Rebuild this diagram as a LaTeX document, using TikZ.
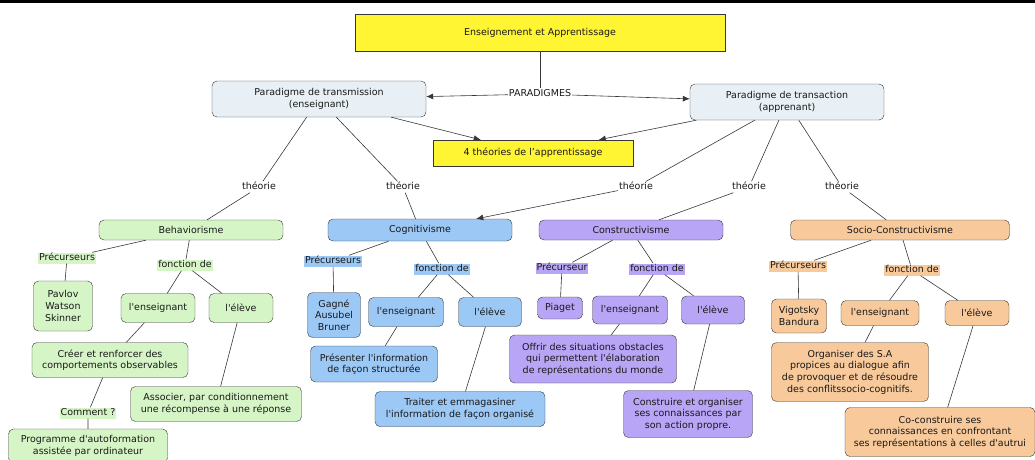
\documentclass[tikz,border=0pt]{standalone}
\usepackage{fontspec}
\setmainfont{DejaVu Sans}[Ligatures=TeXOff]
\usepackage{tikz}
\usetikzlibrary{shapes,positioning,calc}
\usetikzlibrary{arrows.meta}
\definecolor{jaune}{RGB}{255,245,50}
\definecolor{gris}{RGB}{232,240,245}
\definecolor{vert}{RGB}{214,245,199}
\definecolor{bleu}{RGB}{155,200,245}
\definecolor{violet}{RGB}{185,165,245}
\definecolor{orange}{RGB}{248,201,155}
\definecolor{ligne}{RGB}{55,55,55}
\tikzstyle{cadre} = [rectangle, draw=ligne, fill=jaune, text centered]
\tikzstyle{paradigme} = [rectangle, rounded corners=5pt, draw=ligne, fill=gris, align=center]
\tikzstyle{boite} = [rectangle, rounded corners=5pt, draw=ligne, align=center, inner sep=2pt]
\tikzstyle{etiq} = [inner sep=1pt, text height=7pt, text depth=2pt]
\tikzstyle{trait} = [draw=ligne, line width=0.6pt]
\tikzstyle{fleche} = [draw=ligne, line width=0.6pt, -{Latex[length=7pt,width=6pt]}]

\begin{document}
\begin{tikzpicture}[x=1pt, y=-1pt, font=\fontsize{9.5}{11.6}\selectfont, text=black!90]
						\useasboundingbox (0,0) rectangle (1035,459);
						\fill[black] (0,0) rectangle (1035,2.5);
						\node (titre) at (540,33) [cadre, minimum width=370pt, minimum height=37pt] {Enseignement et Apprentissage};
						\node (transm) at (319,99) [paradigme, minimum width=214pt, minimum height=36pt] {Paradigme de transmission\\(enseignant)};
						\node (transa) at (787,102) [paradigme, minimum width=194pt, minimum height=36pt] {Paradigme de transaction\\(apprenant)};
						\node (parad) at (540,94) [etiq, fill=white] {PARADIGMES};
						\node (quatre) at (533,153) [cadre, minimum width=200pt, minimum height=26pt] {4 théories de l’apprentissage};
						\node (t1) at (259,187) [etiq, fill=white] {théorie};
						\node (t2) at (403,187) [etiq, fill=white] {théorie};
						\node (t3) at (636,187) [etiq, fill=white] {théorie};
						\node (t4) at (749,187) [etiq, fill=white] {théorie};
						\node (t5) at (842,187) [etiq, fill=white] {théorie};
						\node (behav) at (191,230) [boite, fill=vert, minimum width=184pt, minimum height=20pt] {Behaviorisme};
						\node (cogn) at (420,230) [boite, fill=bleu, minimum width=184pt, minimum height=22pt] {Cognitivisme};
						\node (constr) at (631,230) [boite, fill=violet, minimum width=184pt, minimum height=20pt] {Constructivisme};
						\node (socio) at (900,230) [boite, fill=orange, minimum width=219pt, minimum height=20pt] {Socio-Constructivisme};
						\node (precB) at (67,258) [etiq, fill=vert] {Précurseurs};
						\node (fctB) at (185,265) [etiq, fill=vert] {fonction de};
						\node (pavlov) at (63,306) [boite, fill=vert, minimum width=59pt, minimum height=50pt] {Pavlov\\Watson\\Skinner};
						\node (ensB) at (158,308) [boite, fill=vert, minimum width=74pt, minimum height=29pt] {l'enseignant};
						\node (eleveB) at (241,308) [boite, fill=vert, minimum width=64pt, minimum height=29pt] {l'élève};
						\node (creer) at (110,360) [boite, fill=vert, minimum width=156pt, minimum height=35pt] {Créer et renforcer des\\comportements observables};
						\node (associer) at (216,404) [boite, fill=vert, minimum width=171pt, minimum height=35pt] {Associer, par conditionnement\\une récompense à une réponse};
						\node (comment) at (88,413) [etiq, fill=vert] {Comment ?};
						\node (programme) at (88,446) [boite, fill=vert, minimum width=159pt, minimum height=34pt] {Programme d'autoformation\\assistée par ordinateur};
						\node (precC) at (333,261) [etiq, fill=bleu] {Précurseurs};
						\node (fctC) at (442,269) [etiq, fill=bleu] {fonction de};
						\node (gagne) at (334,315) [boite, fill=bleu, minimum width=53pt, minimum height=45pt] {Gagné\\Ausubel\\Bruner};
						\node (ensC) at (406,312) [boite, fill=bleu, minimum width=75pt, minimum height=29pt] {l'enseignant};
						\node (eleveC) at (490,312) [boite, fill=bleu, minimum width=63pt, minimum height=29pt] {l'élève};
						\node (presenter) at (374,364) [boite, fill=bleu, minimum width=127pt, minimum height=36pt] {Présenter l'information\\de façon structurée};
						\node (traiter) at (460,409) [boite, fill=bleu, minimum width=170pt, minimum height=35pt] {Traiter et emmagasiner\\l'information de façon organisé};
						\node (precK) at (562,268) [etiq, fill=violet] {Précurseur};
						\node (fctK) at (657,269) [etiq, fill=violet] {fonction de};
						\node (piaget) at (560,308) [boite, fill=violet, minimum width=45pt, minimum height=22pt] {Piaget};
						\node (ensK) at (630,310) [boite, fill=violet, minimum width=75pt, minimum height=28pt] {l'enseignant};
						\node (eleveK) at (713,310) [boite, fill=violet, minimum width=63pt, minimum height=28pt] {l'élève};
						\node (offrir) at (593,359) [boite, fill=violet, minimum width=167pt, minimum height=48pt] {Offrir des situations obstacles\\qui permettent l'élaboration\\de représentations du monde};
						\node (construire) at (688,414) [boite, fill=violet, minimum width=129pt, minimum height=47pt] {Construire et organiser\\ses connaissances par\\son action propre.};
						\node (precS) at (798,266) [etiq, fill=orange] {Précurseurs};
						\node (fctS) at (912,270) [etiq, fill=orange] {fonction de};
						\node (vigotsky) at (799,316) [boite, fill=orange, minimum width=55pt, minimum height=34pt] {Vigotsky\\Bandura};
						\node (ensS) at (880,313) [boite, fill=orange, minimum width=78pt, minimum height=25pt] {l'enseignant};
						\node (eleveS) at (977,313) [boite, fill=orange, minimum width=64pt, minimum height=25pt] {l'élève};
						\node (organiser) at (850,372) [boite, fill=orange, minimum width=157pt, minimum height=59pt] {Organiser des S.A\\propices au dialogue afin\\de provoquer et de résoudre\\des conflitssocio-cognitifs.};
						\node (coconstr) at (940,432) [boite, fill=orange, minimum width=190pt, minimum height=49pt] {Co-construire ses\\connaissances en confrontant\\ses représentations à celles d'autrui};
						\draw[trait] (titre) -- (parad);
						\draw[fleche] (parad) -- (transm);
						\draw[fleche] (parad) -- (transa);
						\draw[fleche] (transm) -- (quatre);
						\draw[fleche] (transa) -- (quatre);
						\draw[trait] (transm) -- (t1) -- (behav);
						\draw[trait] (transm) -- (t2) -- (cogn);
						\draw[trait] (transa) -- (t3);
						\draw[fleche] (t3) -- (cogn);
						\draw[trait] (transa) -- (t4) -- (constr);
						\draw[trait] (transa) -- (t5) -- (socio);
						\draw[trait] (behav) -- (precB) -- (pavlov);
						\draw[trait] (behav) -- (fctB) -- (ensB);
						\draw[trait] (fctB) -- (eleveB);
						\draw[trait] (ensB) -- (creer);
						\draw[trait] (eleveB) -- (associer);
						\draw[trait] (creer) -- (comment) -- (programme);
						\draw[trait] (cogn) -- (precC) -- (gagne);
						\draw[trait] (cogn) -- (fctC) -- (ensC);
						\draw[trait] (fctC) -- (eleveC);
						\draw[trait] (ensC) -- (presenter);
						\draw[trait] (eleveC) -- (traiter);
						\draw[trait] (constr) -- (precK) -- (piaget);
						\draw[trait] (constr) -- (fctK) -- (ensK);
						\draw[trait] (fctK) -- (eleveK);
						\draw[trait] (ensK) -- (offrir);
						\draw[trait] (eleveK) -- (construire);
						\draw[trait] (socio) -- (precS) -- (vigotsky);
						\draw[trait] (socio) -- (fctS) -- (ensS);
						\draw[trait] (fctS) -- (eleveS);
						\draw[trait] (ensS) -- (organiser);
						\draw[trait] (eleveS) -- (coconstr);
					\end{tikzpicture}
\end{document}
